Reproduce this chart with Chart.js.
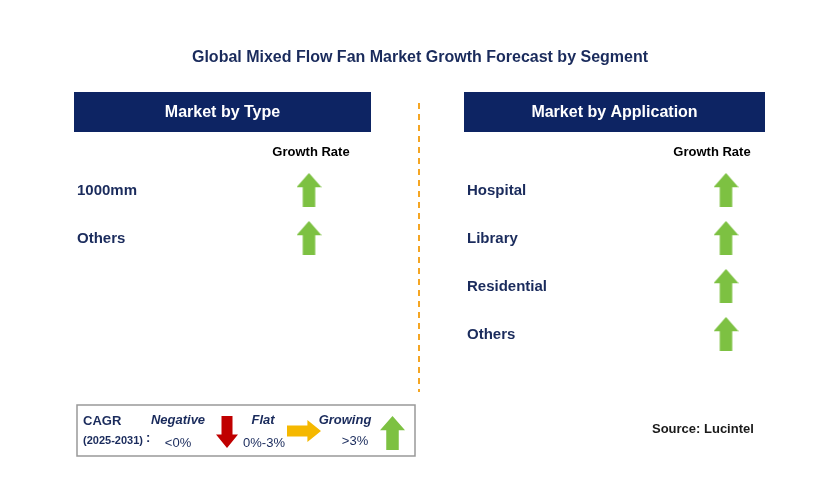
<!DOCTYPE html>
<html><head><meta charset="utf-8">
<script src="https://cdn.jsdelivr.net/npm/chart.js@4/dist/chart.umd.min.js"></script>
<style>html,body{margin:0;padding:0;background:#fff}#wrap{width:829px;height:493px}</style>
</head><body><div id="wrap"><canvas id="c"></canvas></div>
<script>
const title = "Global Mixed Flow Fan Market Growth Forecast by Segment";
const typeCategories = ["1000mm", "Others"];
const typeGrowth = ["Growing", "Growing"];
const appCategories = ["Hospital", "Library", "Residential", "Others"];
const appGrowth = ["Growing", "Growing", "Growing", "Growing"];
const panelTitles = ["Market by Type", "Market by Application"];
const source = "Source: Lucintel";

function arrow(color, dir, w, h){
  const c=document.createElement('canvas');c.width=w;c.height=h;const g=c.getContext('2d');
  g.fillStyle=color;g.beginPath();
  const hh=h*0.42, sw=w*0.5;
  if(dir==='up'){g.moveTo(w/2,0);g.lineTo(w,hh);g.lineTo((w+sw)/2,hh);g.lineTo((w+sw)/2,h);g.lineTo((w-sw)/2,h);g.lineTo((w-sw)/2,hh);g.lineTo(0,hh);}
  else if(dir==='down'){g.moveTo(w/2,h);g.lineTo(w,h-hh);g.lineTo((w+sw)/2,h-hh);g.lineTo((w+sw)/2,0);g.lineTo((w-sw)/2,0);g.lineTo((w-sw)/2,h-hh);g.lineTo(0,h-hh);}
  else {const hw=w*0.4, sh=h*0.5;g.moveTo(w,h/2);g.lineTo(w-hw,0);g.lineTo(w-hw,(h-sh)/2);g.lineTo(0,(h-sh)/2);g.lineTo(0,(h+sh)/2);g.lineTo(w-hw,(h+sh)/2);g.lineTo(w-hw,h);}
  g.closePath();g.fill();return c;
}
const green='#7dc142', red='#c00000', yellow='#f5b800', navy='#0d2463', text='#1a2b5c';
const upArrow=arrow(green,'up',25,34);

const rowY = i => 190 + 48*i;
const typeData = typeCategories.map((c,i)=>({x:309,y:rowY(i)}));
const appData = appCategories.map((c,i)=>({x:726,y:rowY(i)}));

const deco = {
  id:'deco',
  afterDraw(ch){
    const g=ch.ctx, xs=ch.scales.x, ys=ch.scales.y;
    const X=v=>xs.getPixelForValue(v), Y=v=>ys.getPixelForValue(v);
    g.save();
    g.textBaseline='middle';
    g.fillStyle=text;g.font='bold 16px Arial, "Liberation Sans"';g.textAlign='center';
    g.fillText(title,X(420),Y(58));
    [[74,371],[464,765]].forEach(([a,b],k)=>{
      g.fillStyle=navy;g.fillRect(X(a),Y(92),X(b)-X(a),Y(132)-Y(92));
      g.fillStyle='#fff';g.font='bold 16px Arial, "Liberation Sans"';g.textAlign='center';
      g.fillText(panelTitles[k],X((a+b)/2),Y(113));
    });
    g.strokeStyle='#f5a623';g.lineWidth=2;g.setLineDash([6,5]);
    g.beginPath();g.moveTo(X(419),Y(103));g.lineTo(X(419),Y(392));g.stroke();g.setLineDash([]);
    g.fillStyle='#000';g.font='bold 13px Arial, "Liberation Sans"';g.textAlign='center';
    g.fillText('Growth Rate',X(311),Y(152));g.fillText('Growth Rate',X(712),Y(152));
    g.fillStyle=text;g.font='bold 15px Arial, "Liberation Sans"';g.textAlign='left';
    typeCategories.forEach((c,i)=>g.fillText(c,X(77),Y(rowY(i)+1)));
    appCategories.forEach((c,i)=>g.fillText(c,X(467),Y(rowY(i)+1)));
    g.strokeStyle='#999';g.lineWidth=1.5;g.strokeRect(X(77),Y(405),X(415)-X(77),Y(456)-Y(405));
    g.fillStyle=text;g.font='bold 13px Arial, "Liberation Sans"';g.textAlign='left';
    g.fillText('CAGR',X(83),Y(421));
    g.font='bold 11px Arial, "Liberation Sans"';g.fillText('(2025-2031)',X(83),Y(441));
    g.font='bold 13px Arial, "Liberation Sans"';g.fillText(':',X(146),Y(438));
    g.font='italic bold 13px Arial, "Liberation Sans"';g.textAlign='center';
    g.fillText('Negative',X(178),Y(420));g.fillText('Flat',X(263),Y(420));g.fillText('Growing',X(345),Y(420));
    g.font='13px Arial, "Liberation Sans"';
    g.fillText('<0%',X(178),Y(443));g.fillText('0%-3%',X(264),Y(443));g.fillText('>3%',X(355),Y(441));
    g.drawImage(arrow(red,'down',22,32),X(216),Y(416));
    g.drawImage(arrow(yellow,'right',34,22),X(287),Y(420));
    g.drawImage(upArrow,X(380),Y(416));
    g.fillStyle='#1a1a1a';g.font='bold 13px Arial, "Liberation Sans"';g.textAlign='left';
    g.fillText(source,X(652),Y(429));
    g.restore();
  }
};

new Chart(document.getElementById('c'),{
  type:'scatter',
  data:{datasets:[
    {label:'Type',data:typeData,pointStyle:upArrow,pointRadius:17},
    {label:'Application',data:appData,pointStyle:upArrow,pointRadius:17}
  ]},
  options:{responsive:true,maintainAspectRatio:false,animation:false,
    layout:{padding:0,autoPadding:false},
    plugins:{legend:{display:false},tooltip:{enabled:false}},
    scales:{x:{type:'linear',min:0,max:829,display:false},y:{type:'linear',min:0,max:493,reverse:true,display:false}}
  },
  plugins:[deco]
});
</script></body></html>
